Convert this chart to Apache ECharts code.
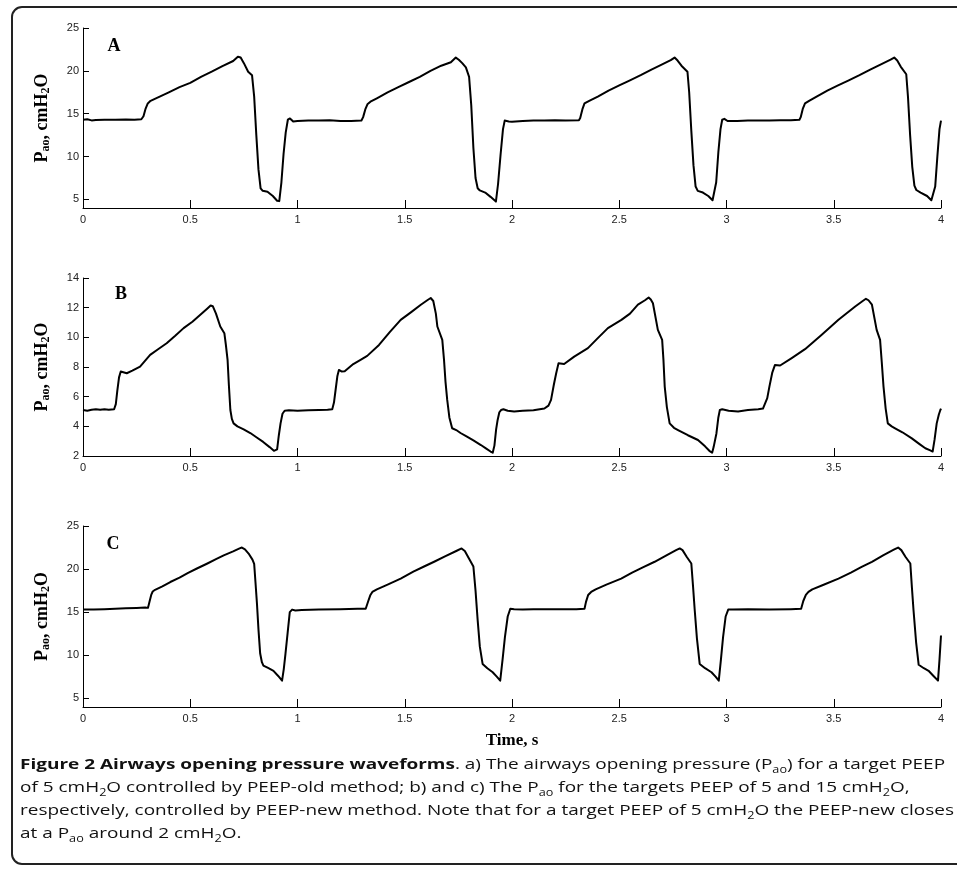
<!DOCTYPE html>
<html><head><meta charset="utf-8">
<script src="https://cdn.jsdelivr.net/npm/echarts@6/dist/echarts.min.js"></script>
<style>html,body{margin:0;padding:0;background:#fff}#c{width:957px;height:869px}</style>
</head><body><div id="c"></div>
<script>
// ---- data ----
const timeTicks = [0, 0.5, 1, 1.5, 2, 2.5, 3, 3.5, 4];
const yTicksA = [5, 10, 15, 20, 25];
const yTicksB = [2, 4, 6, 8, 10, 12, 14];
const yTicksC = [5, 10, 15, 20, 25];
const panelLabels = ['A', 'B', 'C'];
const yAxisTitle = ['P', 'ao', ', cmH', '2', 'O'];
const xAxisTitle = 'Time, s';

// [time s, P_ao cmH2O] — panel A (PEEP-old, target 5)
const paoA = [
[0.000,14.30],[0.020,14.35],[0.040,14.22],[0.060,14.28],[0.100,14.30],[0.150,14.30],[0.200,14.32],[0.240,14.30],[0.272,14.35],[0.282,14.70],[0.292,15.60],[0.302,16.20],[0.315,16.50],[0.350,16.90],[0.400,17.50],[0.450,18.10],[0.500,18.60],[0.550,19.30],[0.600,19.90],[0.650,20.55],[0.700,21.15],[0.722,21.65],[0.735,21.55],[0.750,20.90],[0.770,19.90],[0.788,19.50],[0.798,17.00],[0.808,12.50],[0.818,8.50],[0.828,6.30],[0.838,6.00],[0.860,5.90],[0.885,5.40],[0.905,4.85],[0.915,4.80],[0.925,7.00],[0.935,10.30],[0.945,12.80],[0.955,14.30],[0.965,14.45],[0.980,14.10],[1.000,14.15],[1.050,14.20],[1.100,14.20],[1.150,14.25],[1.200,14.15],[1.250,14.15],[1.298,14.20],
[1.306,14.60],[1.316,15.50],[1.326,16.10],[1.340,16.40],[1.370,16.80],[1.420,17.50],[1.470,18.10],[1.520,18.70],[1.570,19.30],[1.620,20.00],[1.670,20.60],[1.715,21.00],[1.738,21.55],[1.752,21.30],[1.768,20.90],[1.785,20.40],[1.800,19.30],[1.810,16.00],[1.820,11.00],[1.830,7.50],[1.840,6.30],[1.850,6.05],[1.875,5.80],[1.900,5.30],[1.925,4.75],[1.935,6.80],[1.947,10.30],[1.958,13.20],[1.966,14.20],[1.972,14.35],[1.985,14.10],[2.000,14.05],[2.050,14.15],[2.100,14.20],[2.150,14.20],[2.200,14.25],[2.250,14.20],[2.312,14.25],
[2.318,14.50],[2.328,15.50],[2.338,16.20],[2.360,16.50],[2.400,17.00],[2.450,17.70],[2.500,18.30],[2.550,18.90],[2.600,19.50],[2.650,20.15],[2.700,20.75],[2.740,21.25],[2.758,21.55],[2.772,21.20],[2.790,20.60],[2.818,19.90],[2.826,17.50],[2.836,13.00],[2.846,9.00],[2.856,6.50],[2.866,6.00],[2.890,5.80],[2.915,5.40],[2.935,4.90],[2.942,4.75],[2.952,7.00],[2.962,10.50],[2.972,13.20],[2.980,14.30],[2.990,14.40],[3.005,14.15],[3.050,14.15],[3.100,14.20],[3.150,14.20],[3.200,14.20],[3.250,14.25],[3.300,14.25],[3.340,14.30],
[3.346,14.60],[3.356,15.60],[3.366,16.20],[3.385,16.50],[3.420,17.00],[3.470,17.70],[3.520,18.30],[3.570,18.90],[3.620,19.50],[3.670,20.15],[3.720,20.75],[3.765,21.30],[3.782,21.55],[3.796,21.20],[3.812,20.50],[3.838,19.60],[3.846,17.00],[3.856,12.50],[3.866,8.80],[3.876,6.60],[3.885,6.10],[3.905,5.80],[3.935,5.40],[3.955,4.90],[3.963,4.75],[3.973,6.50],[3.983,10.00],[3.993,13.20],[4.000,14.20]
];

// panel B (PEEP-new, target 5)
const paoB = [
[0.000,5.10],[0.020,5.05],[0.040,5.12],[0.060,5.15],[0.080,5.12],[0.100,5.15],[0.120,5.12],[0.145,5.15],[0.153,5.50],[0.160,6.40],[0.168,7.30],[0.176,7.70],[0.185,7.65],[0.204,7.58],[0.230,7.75],[0.266,8.03],[0.313,8.82],[0.350,9.20],[0.390,9.60],[0.430,10.10],[0.469,10.62],[0.510,11.05],[0.547,11.52],[0.580,11.95],[0.595,12.15],[0.605,12.10],[0.620,11.60],[0.640,10.73],[0.659,10.28],[0.666,9.50],[0.674,8.48],[0.680,6.80],[0.687,5.10],[0.694,4.50],[0.702,4.20],[0.720,4.00],[0.749,3.80],[0.780,3.55],[0.810,3.25],[0.840,2.95],[0.870,2.60],[0.890,2.35],[0.897,2.22],[0.905,2.45],[0.913,3.40],[0.921,4.20],[0.930,4.85],[0.940,5.05],[0.960,5.08],[1.000,5.05],[1.050,5.08],[1.100,5.10],[1.140,5.12],[1.162,5.15],
[1.170,5.60],[1.178,6.50],[1.186,7.40],[1.193,7.80],[1.205,7.70],[1.220,7.72],[1.260,8.20],[1.290,8.45],[1.325,8.75],[1.380,9.49],[1.430,10.35],[1.481,11.18],[1.530,11.70],[1.575,12.20],[1.605,12.50],[1.621,12.65],[1.633,12.45],[1.645,11.60],[1.652,10.73],[1.675,9.83],[1.683,8.50],[1.690,7.00],[1.698,5.78],[1.708,4.60],[1.721,3.87],[1.740,3.75],[1.760,3.55],[1.790,3.30],[1.820,3.05],[1.855,2.74],[1.880,2.50],[1.900,2.30],[1.910,2.22],[1.918,2.70],[1.926,3.80],[1.933,4.43],[1.941,4.95],[1.949,5.10],[1.960,5.15],[1.980,5.05],[2.010,5.00],[2.050,5.05],[2.100,5.08],[2.151,5.20],
[2.170,5.40],[2.182,5.78],[2.195,6.80],[2.206,7.58],[2.217,8.26],[2.243,8.20],[2.290,8.70],[2.354,9.27],[2.400,9.95],[2.447,10.62],[2.510,11.18],[2.550,11.60],[2.587,12.20],[2.620,12.50],[2.637,12.69],[2.647,12.55],[2.657,12.30],[2.680,10.50],[2.700,9.83],[2.706,8.50],[2.712,6.68],[2.722,5.30],[2.735,4.20],[2.755,3.90],[2.774,3.75],[2.820,3.40],[2.867,3.08],[2.900,2.65],[2.920,2.35],[2.933,2.22],[2.940,2.60],[2.953,3.52],[2.962,4.60],[2.969,5.10],[2.980,5.15],[3.010,5.05],[3.054,5.00],[3.100,5.10],[3.148,5.15],[3.170,5.20],
[3.179,5.32],[3.190,5.90],[3.200,6.68],[3.213,7.60],[3.226,8.14],[3.250,8.10],[3.304,8.60],[3.366,9.20],[3.444,10.17],[3.522,11.18],[3.600,12.08],[3.635,12.45],[3.650,12.60],[3.662,12.50],[3.678,12.20],[3.700,10.50],[3.716,9.83],[3.724,8.30],[3.732,6.68],[3.742,5.20],[3.752,4.20],[3.770,4.00],[3.786,3.87],[3.820,3.60],[3.864,3.19],[3.900,2.80],[3.927,2.52],[3.950,2.38],[3.961,2.30],[3.970,3.10],[3.980,4.20],[3.990,4.80],[3.997,5.10],[4.000,5.20]
];

// panel C (PEEP-new, target 15)
const paoC = [
[0.000,15.30],[0.050,15.30],[0.100,15.35],[0.150,15.40],[0.200,15.45],[0.250,15.50],[0.290,15.55],[0.303,15.50],[0.310,16.20],[0.318,17.00],[0.325,17.40],[0.336,17.60],[0.370,18.00],[0.407,18.50],[0.450,19.00],[0.490,19.55],[0.531,20.07],[0.580,20.65],[0.620,21.15],[0.656,21.60],[0.700,22.05],[0.730,22.40],[0.741,22.50],[0.755,22.30],[0.772,21.80],[0.790,21.10],[0.798,20.60],[0.804,18.50],[0.811,16.00],[0.818,13.00],[0.826,10.20],[0.834,9.20],[0.841,8.80],[0.865,8.50],[0.888,8.20],[0.910,7.60],[0.928,7.06],[0.936,8.40],[0.944,10.20],[0.954,12.60],[0.964,15.00],[0.975,15.30],[0.990,15.20],[1.020,15.25],[1.100,15.30],[1.200,15.35],[1.280,15.40],[1.318,15.40],
[1.322,15.45],[1.330,16.30],[1.340,17.00],[1.349,17.35],[1.370,17.65],[1.420,18.20],[1.481,18.90],[1.540,19.70],[1.590,20.30],[1.637,20.85],[1.690,21.50],[1.740,22.10],[1.765,22.40],[1.780,22.10],[1.800,21.20],[1.820,20.30],[1.830,17.50],[1.840,14.05],[1.850,11.00],[1.863,9.00],[1.885,8.50],[1.910,8.03],[1.930,7.50],[1.945,7.06],[1.956,9.50],[1.967,12.10],[1.980,14.50],[1.992,15.40],[2.010,15.35],[2.050,15.30],[2.100,15.35],[2.200,15.35],[2.300,15.35],[2.338,15.40],
[2.345,16.20],[2.355,17.00],[2.369,17.35],[2.390,17.65],[2.440,18.20],[2.509,18.90],[2.560,19.60],[2.610,20.20],[2.665,20.85],[2.720,21.60],[2.765,22.20],[2.782,22.40],[2.795,22.20],[2.815,21.40],[2.836,20.65],[2.844,18.00],[2.852,15.20],[2.862,12.00],[2.875,9.00],[2.900,8.50],[2.930,8.03],[2.950,7.50],[2.964,7.06],[2.974,9.50],[2.984,12.10],[2.996,14.50],[3.008,15.30],[3.030,15.30],[3.100,15.35],[3.200,15.30],[3.300,15.35],[3.348,15.40],
[3.358,16.30],[3.370,17.00],[3.382,17.35],[3.400,17.65],[3.450,18.15],[3.522,18.90],[3.580,19.60],[3.630,20.25],[3.678,20.85],[3.730,21.60],[3.780,22.25],[3.800,22.50],[3.815,22.20],[3.835,21.40],[3.857,20.65],[3.864,18.00],[3.872,15.20],[3.884,11.50],[3.896,8.90],[3.920,8.50],[3.942,8.20],[3.965,7.60],[3.986,7.06],[3.993,9.50],[4.000,12.30]
];

// caption segments: [style, text]
const captionLines = [
  [['b','Figure 2 Airways opening pressure waveforms'],['n','. a) The airways opening pressure (P'],['s','ao'],['n',') for a target PEEP']],
  [['n','of 5 cmH'],['s','2'],['n','O controlled by PEEP-old method; b) and c) The P'],['s','ao'],['n',' for the targets PEEP of 5 and 15 cmH'],['s','2'],['n','O,']],
  [['n','respectively, controlled by PEEP-new method. Note that for a target PEEP of 5 cmH'],['s','2'],['n','O the PEEP-new closes']],
  [['n','at a P'],['s','ao'],['n',' around 2 cmH'],['s','2'],['n','O.']]
];

// ---- layout ----
const chart = echarts.init(document.getElementById('c'), null, {renderer: 'canvas'});
const serif = '"Liberation Serif","Times New Roman",serif';
const sans = '"Liberation Sans",Arial,sans-serif';
const capFont = '"Open Sans","Noto Sans",sans-serif';
const grids = [
  {left: 83, top: 28, width: 858, height: 180},
  {left: 83, top: 278, width: 858, height: 178},
  {left: 83, top: 526, width: 858, height: 181}
];
const yRanges = [[4, 25, yTicksA], [2, 14, yTicksB], [4, 25, yTicksC]];
const datas = [paoA, paoB, paoC];

const yNameRich = {
  b: {fontFamily: serif, fontWeight: 'bold', fontSize: 18, lineHeight: 20, color: '#000'},
  s: {fontFamily: serif, fontWeight: 'bold', fontSize: 12, lineHeight: 9, verticalAlign: 'bottom', color: '#000'}
};
const yName = '{b|' + yAxisTitle[0] + '}{s|' + yAxisTitle[1] + '}{b|' + yAxisTitle[2] + '}{s|' + yAxisTitle[3] + '}{b|' + yAxisTitle[4] + '}';

const xAxes = grids.map((g, i) => ({
  type: 'value', gridIndex: i, min: timeTicks[0], max: timeTicks[timeTicks.length - 1],
  interval: 0.5,
  axisLine: {show: true, onZero: false, lineStyle: {color: '#000', width: 1}},
  axisTick: {show: true, inside: true, length: 8, lineStyle: {color: '#000', width: 1}},
  axisLabel: {show: true, margin: 6, color: '#222', fontFamily: sans, fontSize: 11,
    customValues: timeTicks},
  splitLine: {show: false},
  name: i === 2 ? xAxisTitle : '',
  nameLocation: 'middle', nameGap: 25,
  nameTextStyle: {fontFamily: serif, fontWeight: 'bold', fontSize: 17, color: '#000', verticalAlign: 'top'}
}));
const yAxes = grids.map((g, i) => ({
  type: 'value', gridIndex: i, min: yRanges[i][0], max: yRanges[i][1],
  axisLine: {show: true, onZero: false, lineStyle: {color: '#000', width: 1}},
  axisTick: {show: true, inside: true, length: 6, lineStyle: {color: '#000', width: 1}, customValues: yRanges[i][2]},
  axisLabel: {show: true, margin: 4, color: '#222', fontFamily: sans, fontSize: 11, customValues: yRanges[i][2]},
  splitLine: {show: false},
  name: yName, nameLocation: 'middle', nameRotate: 90, nameGap: 31,
  nameTextStyle: {rich: yNameRich}
}));
const series = datas.map((d, i) => ({
  type: 'line', xAxisIndex: i, yAxisIndex: i, data: d, showSymbol: false, symbol: 'none',
  lineStyle: {color: '#000', width: 2, join: 'round'}, animation: false, silent: true
}));

// caption measurement for horizontal fit
const capStyles = {
  b: {font: 'bold 15px ' + capFont},
  n: {font: '15px ' + capFont},
  s: {font: '10px ' + capFont}
};
const ctx = document.createElement('canvas').getContext('2d');
function lineWidth(segs) {
  let w = 0;
  segs.forEach(([k, t]) => { ctx.font = capStyles[k].font; w += ctx.measureText(t).width; });
  return w;
}
const capScale = 934 / Math.max.apply(null, captionLines.map(lineWidth));
const capRich = {
  b: {fontFamily: capFont, fontWeight: 'bold', fontSize: 15, lineHeight: 20, fill: '#111'},
  n: {fontFamily: capFont, fontWeight: 'normal', fontSize: 15, lineHeight: 20, fill: '#111'},
  s: {fontFamily: capFont, fontWeight: 'normal', fontSize: 10, lineHeight: 10, verticalAlign: 'bottom', fill: '#111'}
};
const capY = [765, 788, 811, 834];
const graphics = [
  {type: 'rect', silent: true, shape: {x: 12, y: 7, width: 970, height: 857, r: 10},
   style: {fill: 'none', stroke: '#222', lineWidth: 2}, z: 0}
];
captionLines.forEach((segs, i) => {
  graphics.push({
    type: 'text', x: 20, y: capY[i], scaleX: capScale, scaleY: 1, silent: true,
    style: {text: segs.map(([k, t]) => '{' + k + '|' + t + '}').join(''), rich: capRich,
      x: 0, y: 0, verticalAlign: 'middle', align: 'left', fill: '#111'}
  });
});
const labelPos = [[114, 46], [121, 294], [113, 544]];
panelLabels.forEach((l, i) => {
  graphics.push({type: 'text', x: labelPos[i][0], y: labelPos[i][1], silent: true,
    style: {text: l, font: 'bold 18px ' + serif, fill: '#000', align: 'center', verticalAlign: 'middle'}});
});

chart.setOption({
  animation: false,
  backgroundColor: '#fff',
  grid: grids.map(g => Object.assign({containLabel: false}, g)),
  xAxis: xAxes,
  yAxis: yAxes,
  series: series,
  graphic: graphics
});
</script></body></html>
